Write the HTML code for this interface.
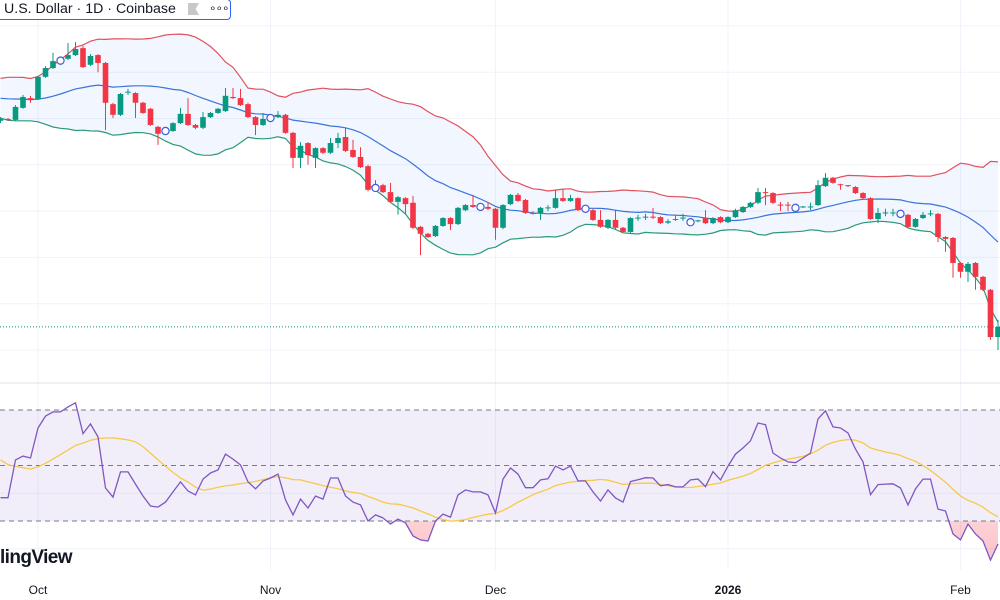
<!DOCTYPE html>
<html><head><meta charset="utf-8">
<style>
html,body{margin:0;padding:0;background:#fff;width:1000px;height:600px;overflow:hidden;font-family:"Liberation Sans",sans-serif}
svg{display:block}
</style></head>
<body>
<svg id="chart" width="1000" height="600" viewBox="0 0 1000 600" xmlns="http://www.w3.org/2000/svg">
</svg>
<script>
// ---- data (prices in k USD) ----
const opens=[109.5,109.9,109.7,112.3,114.4,114.2,119.0,120.9,122.4,122.9,123.7,125.2,121.6,123.7,122.0,113.1,110.8,115.6,115.5,113.4,112.1,108.2,107.3,107.3,109.0,111.0,108.6,108.0,110.3,111.2,111.6,114.65,114.4,113.1,110.3,108.6,110.1,110.3,110.8,106.9,101.5,104.7,101.5,103.6,102.6,104.7,106.0,103.2,101.7,99.7,95.0,95.6,94.1,92.0,92.8,91.8,86.6,85.1,84.6,86.8,88.5,87.2,90.2,91.3,90.9,90.9,90.5,86.4,91.5,93.5,92.4,89.6,89.6,90.6,90.7,92.8,92.2,92.8,90.5,90.2,88.1,86.4,88.1,86.4,85.5,88.4,88.6,88.8,88.7,87.5,88.3,88.4,87.6,87.8,88.5,87.4,88.7,87.6,88.7,89.8,90.9,91.8,94.1,93.9,91.4,91.4,90.7,90.8,90.8,91.3,95.4,97.2,95.8,95.6,95.2,93.9,92.8,88.3,89.5,89.5,89.4,89.2,86.6,88.5,89.3,89.4,84.4,84.2,78.8,76.9,78.8,75.8,73.0,62.8];
const closes=[109.9,109.7,112.5,114.65,114.2,119.0,120.9,122.4,122.6,123.7,125.0,121.1,123.5,122.0,113.4,110.8,115.3,115.8,113.4,111.2,108.6,106.7,107.3,109.0,111.0,108.6,108.0,110.3,111.2,112.1,114.9,114.4,112.9,110.3,108.6,109.9,110.1,110.8,106.9,101.5,104.1,102.1,103.6,102.6,104.7,105.8,103.0,101.7,99.5,94.6,95.0,94.1,92.0,93.0,91.5,86.4,85.1,84.4,86.8,88.5,87.2,90.7,91.3,90.9,90.9,90.5,86.4,91.3,93.5,92.2,89.6,89.5,90.7,90.8,92.8,92.2,92.8,90.2,90.5,88.1,86.6,88.1,86.4,85.5,88.5,88.6,88.8,88.6,87.4,87.8,88.2,88.6,87.6,88.0,87.4,88.5,87.6,88.7,90.2,90.9,91.8,94.1,94.0,91.8,91.2,91.2,90.7,91.0,91.0,95.6,97.2,96.1,95.6,95.4,93.9,92.8,88.3,89.6,89.7,89.7,89.4,86.6,88.3,89.2,89.5,84.4,84.0,78.8,76.9,78.6,75.8,73.0,62.8,65.0];
const highs=[110.3,110.1,112.9,115.1,114.9,119.2,121.3,124.2,123.1,126.3,126.5,125.7,123.9,123.9,122.2,113.4,115.5,116.4,115.7,113.6,112.3,108.4,107.5,109.2,112.3,114.4,108.8,111.4,111.4,112.3,116.6,116.6,116.4,113.4,110.5,111.2,110.5,111.6,111.0,107.1,104.9,104.9,103.8,103.8,105.8,106.9,108.0,105.4,103.8,100.0,96.7,95.9,96.1,93.3,93.0,93.3,86.8,85.3,87.0,88.7,88.7,90.9,91.5,93.5,91.3,92.0,90.7,91.5,93.7,93.9,92.6,90.0,90.9,91.3,94.6,94.6,93.5,93.0,90.9,90.5,90.2,88.3,90.2,86.6,88.7,89.2,89.4,90.7,88.9,88.3,89.2,89.4,88.1,88.1,90.2,88.7,88.9,88.9,90.5,91.1,92.0,95.0,95.0,94.1,92.0,92.0,91.1,91.1,91.8,96.7,98.2,97.4,95.9,95.6,95.4,94.1,93.0,90.7,90.5,90.5,89.8,89.4,88.5,89.8,90.2,89.6,84.6,84.4,79.0,79.0,79.0,76.0,73.2,66.5];
const lows=[109.0,109.5,109.5,112.1,113.4,114.0,118.8,120.7,122.2,122.6,123.5,120.9,121.3,120.0,107.5,110.1,110.5,115.1,110.1,111.0,108.4,104.3,106.9,107.1,108.8,108.4,107.7,107.7,110.1,111.0,111.4,114.2,112.7,110.1,106.4,108.4,109.7,110.1,106.7,99.3,99.3,100.0,99.3,102.3,102.3,103.6,102.8,101.5,99.3,94.3,94.6,93.9,91.8,89.2,89.2,86.1,80.5,84.2,84.4,86.6,85.9,87.0,90.0,90.7,90.5,90.2,83.8,86.1,91.3,92.0,89.4,89.2,88.1,90.0,90.5,92.0,92.0,90.0,90.0,87.9,86.4,86.1,86.1,85.3,85.3,87.9,88.1,88.3,87.2,87.2,87.9,87.9,87.2,87.6,87.2,87.2,87.4,87.4,88.5,89.6,90.7,91.5,91.3,91.5,90.0,90.0,90.2,90.7,90.2,91.1,95.2,95.9,94.6,95.2,93.7,92.6,88.1,87.4,88.9,88.9,88.9,86.4,86.4,88.3,88.9,83.3,81.2,75.6,75.6,74.7,73.0,72.7,62.2,60.0];
const priorCloses=[112,113.5,115,116.5,117,116,114.5,113,112.5,114,115.5,117,118,117,115.5,114,113,112,111.5];
const markerIdx=[8,22,36,50,64,78,92,106,120];
const rsiValues=[38.4,38.4,52.0,53.4,52.7,63.5,67.8,69.3,69.3,71.1,72.6,61.5,65.0,60.3,41.9,38.6,47.7,47.7,43.3,39.0,35.4,35.0,36.8,40.5,44.1,40.8,39.4,45.1,47.3,48.4,54.1,52.3,50.2,44.1,41.6,44.4,45.5,46.9,37.6,32.2,37.9,34.7,39.0,37.9,45.5,45.5,39.0,36.8,35.8,30.0,32.2,31.1,28.9,30.7,29.3,24.6,23.2,22.8,30.0,32.5,31.4,39.4,41.2,40.5,40.5,39.4,32.9,45.1,49.1,46.9,42.0,42.0,44.8,45.2,49.8,48.4,49.8,44.5,44.4,40.5,37.2,41.2,38.3,36.8,44.2,44.9,45.6,45.5,42.7,43.1,42.3,42.3,44.8,45.1,42.4,47.8,44.8,49.8,54.1,56.3,58.9,65.3,64.7,54.5,52.7,51.3,51.0,52.7,54.5,66.8,69.7,63.9,63.5,61.7,55.9,51.3,39.5,43.1,43.3,43.4,41.9,35.8,41.6,45.1,45.1,34.3,33.6,25.3,23.2,28.9,25.3,22.8,15.9,21.7];
const rsiPrior=[62,61,60,59.6,52,50,48,47,48,49,50,51,52];
const monthLabels=["Oct","Nov","Dec","2026","Feb"];
const monthIdx=[5,36,66,97,128];
const priceGrid=[60,70,80,90,100,110,120,130];
const rsiDashed=[70,50,30];
const rsiGrid=[40,20];

// ---- scales ----
const x=i=>0.5+7.5*i;
const y=p=>350-(p-60)*4.63;
const ry=v=>410+(70-v)*2.775;
const svg=document.getElementById('chart');
const NS='http://www.w3.org/2000/svg';
function mk(tag,attrs,parent){const e=document.createElementNS(NS,tag);for(const k in attrs)e.setAttribute(k,attrs[k]);(parent||svg).appendChild(e);return e;}

// grid
const grid=mk('g',{});


monthIdx.forEach(i=>{mk('line',{x1:x(i),x2:x(i),y1:0,y2:570,stroke:'#f0f3fa','stroke-width':1},grid);});
priceGrid.forEach(p=>{mk('line',{x1:0,x2:1000,y1:y(p),y2:y(p),stroke:'#f0f3fa','stroke-width':1},grid);});
rsiGrid.forEach(v=>{mk('line',{x1:0,x2:1000,y1:ry(v),y2:ry(v),stroke:'#f0f3fa','stroke-width':1},grid);});
mk('line',{x1:0,x2:1000,y1:383,y2:383,stroke:'#e0e3eb','stroke-width':1},grid);

// bollinger
const all=priorCloses.concat(closes);
const up=[],mid=[],lo=[];
for(let i=0;i<closes.length;i++){const w=all.slice(i,i+20);const m=w.reduce((a,b)=>a+b,0)/20;const sd=Math.sqrt(w.reduce((a,b)=>a+(b-m)*(b-m),0)/20);mid.push(m);up.push(m+2*sd);lo.push(m-2*sd);}
const pts=a=>a.map((v,i)=>x(i).toFixed(1)+','+y(v).toFixed(1));
const bbFill=mk('polygon',{points:pts(up).concat(pts(lo).reverse()).join(' '),fill:'#2962ff','fill-opacity':0.06});


const bbU=mk('polyline',{points:pts(up).join(' '),fill:'none',stroke:'#e0525c','stroke-width':1.2});


const bbM=mk('polyline',{points:pts(mid).join(' '),fill:'none',stroke:'#3b74d9','stroke-width':1.2});


const bbL=mk('polyline',{points:pts(lo).join(' '),fill:'none',stroke:'#2b9a77','stroke-width':1.2});



// price line
const pl=mk('line',{x1:0,x2:1000,y1:y(closes[closes.length-1]),y2:y(closes[closes.length-1]),stroke:'#089981','stroke-width':1,'stroke-dasharray':'1 2'});



// candles
const cg=mk('g',{});


for(let i=0;i<closes.length;i++){
  const o=opens[i],c=closes[i],col=c>=o?'#089981':'#f23645';
  const g=mk('g',{},cg);
  
  
  mk('line',{x1:x(i),x2:x(i),y1:y(highs[i]),y2:y(lows[i]),stroke:col,'stroke-width':1},g);
  const top=Math.min(y(o),y(c)),h=Math.max(1,Math.abs(y(o)-y(c)));
  mk('rect',{x:x(i)-2.8,y:top,width:5.6,height:h,fill:col},g);
}
markerIdx.forEach(i=>{
  const m=mk('circle',{cx:x(i),cy:y((opens[i]+closes[i])/2),r:3.6,fill:'#fff',stroke:'#3b5bdb','stroke-width':1.2});
  
  
});

// RSI panel
const band=mk('rect',{x:0,y:ry(70),width:1000,height:ry(30)-ry(70),fill:'#7e57c2','fill-opacity':0.1});


rsiDashed.forEach(v=>{
  const l=mk('line',{x1:0,x2:1000,y1:ry(v),y2:ry(v),stroke:'#787b86','stroke-width':1,'stroke-dasharray':'5 4'});
  
  
});
const rpts=rsiValues.map((v,i)=>x(i).toFixed(1)+','+ry(v).toFixed(1));
const defs=mk('defs',{});
const lg=mk('linearGradient',{id:'osg',x1:0,y1:0,x2:0,y2:1},defs);
mk('stop',{offset:'0','stop-color':'#f23645','stop-opacity':0},lg);
mk('stop',{offset:'1','stop-color':'#f23645','stop-opacity':0.3},lg);
const cp=mk('clipPath',{id:'below30'},defs);
mk('rect',{x:0,y:ry(30),width:1000,height:100},cp);
const os=mk('polygon',{points:('0,'+ry(30)+' '+rpts.join(' ')+' '+x(rsiValues.length-1)+','+ry(30)),fill:'url(#osg)','clip-path':'url(#below30)'});


const rAll=rsiPrior.concat(rsiValues);
const ma=rsiValues.map((v,i)=>rAll.slice(i,i+14).reduce((a,b)=>a+b,0)/14);
const maL=mk('polyline',{points:ma.map((v,i)=>x(i).toFixed(1)+','+ry(v).toFixed(1)).join(' '),fill:'none',stroke:'#f7c948','stroke-width':1.3});


const rl=mk('polyline',{points:rpts.join(' '),fill:'none',stroke:'#7e57c2','stroke-width':1.3});



// time axis
monthLabels.forEach((t,k)=>{
  const tx=mk('text',{x:x(monthIdx[k]),y:594,'text-anchor':'middle','font-size':12,fill:'#131722','font-weight':t==='2026'?'bold':'normal','font-family':'Liberation Sans, sans-serif'});
  tx.textContent=t;
  
  
});
</script>
<div style="position:absolute;left:-10px;top:-1px;width:239px;height:19px;border:1px solid #2962ff;border-radius:4px;background:#fff;font-size:14.2px;color:#131722;line-height:19px;white-space:nowrap">
  <span style="position:absolute;left:13px;top:0">U.S. Dollar · 1D · Coinbase</span>
  <span style="position:absolute;left:197px;top:3px;width:11px;height:12px;background:#c8c8c8;clip-path:polygon(0 0,100% 0,70% 50%,100% 100%,0 100%)"></span>
  <span style="position:absolute;left:218px;top:-1px;font-size:12px;letter-spacing:-1px">∘∘∘</span>
</div>
<div style="position:absolute;left:0;top:547px;font-size:19px;font-weight:bold;color:#131722;letter-spacing:-0.6px">lingView</div>
</body></html>
